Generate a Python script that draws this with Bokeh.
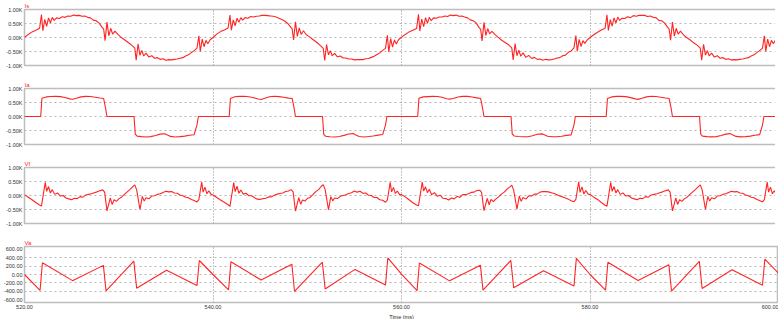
from bokeh.plotting import figure
from bokeh.layouts import column
from bokeh.models import Range1d, FixedTicker, Title
from bokeh.embed import file_html
from bokeh.resources import INLINE

# ---------------- data ----------------
period_starts = [520, 540, 560, 580]
x_ticks = [520, 540, 560, 580, 600]
x_tick_labels = ["520.00", "540.00", "560.00", "580.00", "600.00"]
x_label = "Time (ms)"

titles = ["Is", "Ia", "Vf", "Va"]

k_ticks = [-1000, -500, 0, 500, 1000]
k_tick_labels = ["-1.00K", "-0.50K", "0.00K", "0.50K", "1.00K"]
v_ticks = [-600, -400, -200, 0, 200, 400, 600]
v_tick_labels = ["-600.00", "-400.00", "-200.00", "0.00", "200.00", "400.00", "600.00"]

# Is : time offsets inside each 20 ms period and values per period
is_offsets = [0.0, 0.4, 0.8, 1.2, 1.6, 1.8, 1.95, 2.15, 2.35, 2.55,
              2.75, 2.95, 3.15, 3.4, 3.7, 4.0, 4.3, 4.6, 4.9, 5.2,
              5.5, 5.8, 6.1, 6.4, 6.7, 7.0, 7.3, 7.6, 7.9, 8.2,
              8.4, 8.55, 8.75, 8.95, 9.15, 9.35, 9.6, 9.9, 10.2, 10.6,
              11.0, 11.4, 11.7, 11.85, 12.05, 12.25, 12.45, 12.65, 12.9, 13.2,
              13.5, 13.8, 14.1, 14.4, 14.7, 15.0, 15.3, 15.6, 15.9, 16.2,
              16.5, 16.8, 17.1, 17.4, 17.7, 18.0, 18.3, 18.5, 18.65, 18.85,
              19.05, 19.25, 19.45, 19.7]
is_p1 = [0, 110, 200, 260, 330, 820, 240, 650, 400, 700,
         520, 720, 610, 700, 680, 740, 720, 770, 760, 800,
         780, 790, 760, 770, 720, 700, 620, 600, 520, 380,
         300, -110, 550, 60, 330, 120, 230, 110, 20, -80,
         -180, -280, -380, -810, -230, -640, -460, -660, -560, -700,
         -650, -740, -720, -780, -760, -810, -790, -800, -780, -770,
         -740, -720, -660, -620, -540, -470, -380, 60, -500, -60,
         -330, -100, -220, -80]
is_p2 = [0, 120, 210, 270, 340, 800, 260, 630, 420, 690,
         540, 710, 620, 710, 690, 750, 730, 760, 770, 790,
         790, 780, 770, 760, 730, 690, 640, 590, 510, 390,
         310, -90, 560, 40, 340, 110, 240, 100, 30, -70,
         -170, -290, -390, -820, -250, -620, -470, -650, -570, -690,
         -660, -730, -730, -770, -770, -800, -790, -790, -790, -760,
         -750, -710, -670, -610, -550, -460, -390, 80, -520, -40,
         -340, -90, -230, -70]
is_p3 = [10, 110, 200, 260, 320, 830, 230, 660, 390, 710,
         510, 720, 600, 700, 690, 730, 730, 770, 750, 800,
         780, 800, 760, 770, 730, 700, 630, 600, 530, 370,
         290, -120, 540, 70, 320, 130, 220, 110, 20, -90,
         -180, -270, -370, -800, -220, -650, -450, -670, -550, -710,
         -640, -750, -710, -780, -770, -810, -780, -800, -790, -770,
         -730, -720, -650, -630, -530, -480, -370, 70, -490, -70,
         -320, -110, -210, -90]
is_p4 = [0, 100, 190, 270, 330, 810, 250, 640, 410, 700,
         520, 730, 610, 690, 680, 740, 710, 780, 760, 790,
         790, 790, 750, 770, 720, 710, 610, 600, 520, 380,
         300, -100, 550, 50, 330, 120, 230, 100, 10, -80,
         -190, -280, -380, -810, -240, -630, -470, -660, -560, -700,
         -650, -740, -720, -780, -760, -800, -790, -800, -780, -770,
         -740, -720, -660, -620, -540, -470, -380, 60, -500, -60,
         -330, -100, -220, -80]
is_end = 0

# Ia
ia_offsets = [0.0, 1.72, 1.85, 2.3, 2.8, 3.3, 3.8, 4.3, 4.8, 5.1,
              5.5, 6.0, 6.5, 7.0, 7.5, 8.0, 8.4, 8.6, 8.75,
              11.62, 11.75, 11.95, 12.4, 12.9, 13.4, 13.9, 14.4, 14.9, 15.1,
              15.5, 16.0, 16.5, 17.0, 17.5, 18.0, 18.3, 18.45, 18.6]
ia_p1 = [0, 0, 650, 700, 715, 720, 710, 680, 630, 615,
         650, 700, 720, 715, 690, 660, 640, 300, 0,
         0, -630, -700, -720, -730, -720, -680, -630, -615, -650,
         -710, -730, -720, -700, -670, -650, -300, 0, 0]
ia_p2 = [0, 0, 640, 705, 720, 725, 705, 670, 625, 610,
         655, 705, 725, 710, 685, 655, 645, 310, 0,
         0, -640, -705, -725, -730, -715, -675, -625, -610, -655,
         -715, -730, -715, -695, -665, -645, -310, 0, 0]
ia_p3 = [0, 0, 655, 700, 710, 720, 715, 685, 635, 620,
         645, 695, 720, 720, 695, 665, 640, 300, 0,
         0, -625, -695, -715, -725, -725, -685, -635, -620, -645,
         -705, -725, -725, -705, -675, -655, -300, 0, 0]
ia_p4 = [0, 0, 645, 700, 720, 720, 710, 675, 630, 612,
         650, 700, 722, 712, 690, 660, 642, 305, 0,
         0, -635, -700, -720, -728, -720, -680, -630, -612, -650,
         -710, -728, -720, -700, -668, -648, -305, 0, 0]
ia_end = 0

# Vf
vf_offsets = [0.0, 0.4, 0.8, 1.2, 1.6, 1.8, 2.2, 2.35, 2.55, 2.75,
              2.95, 3.2, 3.5, 3.8, 4.1, 4.4, 4.7, 5.0, 5.3, 5.6,
              5.9, 6.2, 6.5, 6.8, 7.1, 7.4, 7.7, 8.0, 8.3, 8.5,
              8.75, 9.1, 9.3, 9.5, 9.75, 10.0, 10.3, 10.6, 10.9, 11.2,
              11.5, 11.7, 11.9, 12.25, 12.5, 12.7, 12.9, 13.2, 13.5, 13.8,
              14.1, 14.4, 14.7, 15.0, 15.3, 15.6, 15.9, 16.2, 16.5, 16.8,
              17.1, 17.4, 17.7, 18.0, 18.3, 18.5, 18.8, 18.95, 19.15, 19.35,
              19.55, 19.8]
vf_p1 = [30, -60, -150, -250, -340, -380, 470, 150, 320, 90,
         210, 40, 90, -20, 0, -90, -120, -150, -100, -110,
         -40, -60, 20, 40, 60, 100, 130, 170, 200, 120,
         -550, -90, -320, -150, -210, -120, -60, 40, 130, 220,
         320, 380, 200, -500, -30, -200, -80, -120, -20, -10,
         40, 60, 110, 150, 130, 140, 90, 80, 20, -10,
         -60, -80, -140, -180, -230, -150, 480, 120, 300, 60,
         170, 40]
vf_p2 = [20, -70, -160, -240, -330, -390, 460, 140, 330, 80,
         200, 50, 80, -10, -10, -80, -130, -140, -110, -100,
         -50, -50, 10, 50, 70, 90, 140, 160, 210, 130,
         -560, -80, -310, -160, -200, -110, -70, 30, 140, 210,
         330, 390, 210, -510, -40, -190, -90, -110, -30, 0,
         30, 70, 100, 160, 120, 150, 80, 90, 10, 0,
         -70, -70, -150, -170, -240, -160, 470, 130, 290, 70,
         160, 30]
vf_p3 = [30, -50, -150, -260, -340, -370, 480, 160, 310, 100,
         220, 30, 100, -30, 10, -100, -110, -160, -90, -120,
         -30, -70, 30, 30, 60, 110, 120, 180, 190, 110,
         -540, -100, -330, -140, -220, -130, -50, 50, 120, 230,
         310, 370, 190, -490, -20, -210, -70, -130, -10, -20,
         50, 50, 120, 140, 140, 130, 100, 70, 30, -20,
         -50, -90, -130, -190, -220, -140, 490, 110, 310, 50,
         180, 50]
vf_p4 = [40, -60, -140, -250, -350, -380, 470, 150, 320, 90,
         210, 40, 90, -20, 0, -90, -120, -150, -100, -110,
         -40, -60, 20, 40, 60, 100, 130, 170, 200, 120,
         -550, -90, -320, -150, -210, -120, -60, 40, 130, 220,
         320, 380, 200, -500, -30, -200, -80, -120, -20, -10,
         40, 60, 110, 150, 130, 140, 90, 80, 20, -10,
         -60, -80, -140, -180, -230, -150, 480, 120, 300, 60,
         170, 40]
vf_end = 30

# Va
va_offsets = [0.0, 1.65, 1.9, 5.1, 8.37, 8.65, 11.6, 11.9, 15.07, 18.3, 18.55]
va_p1 = [0, -376, 277, -145, 215, -385, 316, -323, 99, -260, 330]
va_p2 = [0, -360, 300, -130, 240, -400, 290, -340, 120, -250, 390]
va_p3 = [10, -380, 270, -150, 220, -370, 330, -310, 90, -270, 380]
va_p4 = [0, -370, 290, -140, 230, -390, 310, -330, 110, -255, 360]
va_end = 30


def series(offsets, periods, end_value):
    t, v = [], []
    for start, vals in zip(period_starts, periods):
        assert len(vals) == len(offsets), (len(vals), len(offsets))
        for o, y in zip(offsets, vals):
            t.append(start + o)
            v.append(y)
    t.append(600.0)
    v.append(end_value)
    return t, v


is_t, is_v = series(is_offsets, [is_p1, is_p2, is_p3, is_p4], is_end)
ia_t, ia_v = series(ia_offsets, [ia_p1, ia_p2, ia_p3, ia_p4], ia_end)
vf_t, vf_v = series(vf_offsets, [vf_p1, vf_p2, vf_p3, vf_p4], vf_end)
va_t, va_v = series(va_offsets, [va_p1, va_p2, va_p3, va_p4], va_end)

# ---------------- style ----------------
RED = "#ff2424"
FONT = "Liberation Sans"
xr = Range1d(520, 600)


def panel(title, t, v, yr, yticks, ylabels, bottom_axis):
    p = figure(frame_width=754, frame_height=56, x_range=xr, y_range=Range1d(*yr),
               output_backend="svg", toolbar_location=None, title=title,
               min_border_left=21, min_border_right=0, min_border_top=0,
               min_border_bottom=(0 if bottom_axis else 14))
    p.title.text_color = RED
    p.title.text_font_size = "6px"
    p.title.text_font_style = "normal"
    p.title.text_font = FONT
    p.title.standoff = 1
    p.title.offset = 0
    p.line(t, v, line_color=RED, line_width=1.1)

    p.outline_line_color = "#bdbdbd"
    p.outline_line_width = 1.5
    p.background_fill_color = "white"
    p.border_fill_color = "white"

    p.yaxis.ticker = FixedTicker(ticks=yticks)
    p.yaxis.major_label_overrides = {k: s for k, s in zip(yticks, ylabels)}
    p.yaxis.axis_line_color = None
    p.yaxis.major_tick_line_color = None
    p.yaxis.minor_tick_line_color = None
    p.yaxis.major_tick_out = 0
    p.yaxis.major_tick_in = 0
    p.yaxis.minor_tick_out = 0
    p.yaxis.major_label_standoff = 2
    p.yaxis.major_label_text_font_size = "5.5px"
    p.yaxis.major_label_text_font = FONT
    p.yaxis.major_label_text_color = "#333333"

    p.ygrid.ticker = FixedTicker(ticks=yticks[1:-1])
    p.ygrid.grid_line_color = "#b5b5b5"
    p.ygrid.grid_line_dash = "2 3"
    p.ygrid.grid_line_width = 1
    p.xgrid.ticker = FixedTicker(ticks=x_ticks[1:-1])
    p.xgrid.grid_line_color = "#8a8a8a"
    p.xgrid.grid_line_dash = "1 2"
    p.xgrid.grid_line_width = 1

    if bottom_axis:
        p.xaxis.ticker = FixedTicker(ticks=x_ticks)
        p.xaxis.major_label_overrides = {k: s for k, s in zip(x_ticks, x_tick_labels)}
        p.xaxis.axis_line_color = None
        p.xaxis.major_tick_line_color = None
        p.xaxis.minor_tick_line_color = None
        p.xaxis.major_tick_out = 0
        p.xaxis.major_tick_in = 0
        p.xaxis.minor_tick_out = 0
        p.xaxis.major_label_standoff = 2
        p.xaxis.major_label_text_font_size = "5.5px"
        p.xaxis.major_label_text_font = FONT
        p.xaxis.major_label_text_color = "#333333"
        xt = Title(text=x_label, align="center", text_font_size="5.5px",
                   text_font_style="normal", text_font=FONT,
                   text_color="#222222", standoff=0, offset=0)
        p.add_layout(xt, "below")
    else:
        p.xaxis.visible = False
    return p


p1 = panel(titles[0], is_t, is_v, (-1000, 1000), k_ticks, k_tick_labels, False)
p2 = panel(titles[1], ia_t, ia_v, (-1000, 1000), k_ticks, k_tick_labels, False)
p3 = panel(titles[2], vf_t, vf_v, (-1000, 1000), k_ticks, k_tick_labels, False)
p4 = panel(titles[3], va_t, va_v, (-660, 660), v_ticks, v_tick_labels, True)

layout = column(p1, p2, p3, p4, spacing=0)
open("out.html", "w").write(file_html(layout, INLINE))
